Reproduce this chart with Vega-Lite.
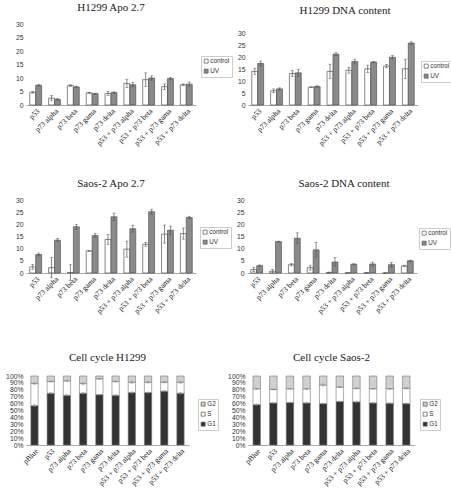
{
  "$schema": "https://vega.github.io/schema/vega-lite/v6.json",
  "padding": {"left": 5, "top": 2, "right": 0, "bottom": 0},
  "background": "white",
  "config": {
    "view": {"stroke": null},
    "title": {"font": "Liberation Serif", "fontSize": 11, "fontWeight": "normal", "color": "#222", "anchor": "middle"},
    "axisX": {"title": null, "labelAngle": -45, "labelFont": "Liberation Serif", "labelFontSize": 7.5, "labelColor": "#111", "ticks": false, "domainColor": "#aaa", "labelPadding": 2},
    "axisY": {"title": null, "labelFont": "Liberation Sans", "labelFontSize": 6.8, "labelColor": "#333", "domain": false, "ticks": false, "grid": false, "labelPadding": 3},
    "legend": {"title": null, "labelFont": "Liberation Sans", "labelFontSize": 6.3, "labelColor": "#333", "symbolType": "square", "symbolSize": 16, "symbolStrokeColor": "#555", "symbolStrokeWidth": 0.7, "strokeColor": "#ccc", "padding": 2, "rowPadding": 2, "labelOffset": 1, "orient": "none"}
  },
  "datasets": {
    "hA": [
      {"cond": "p53", "trt": "control", "v": 4.7, "e": 0.3}, {"cond": "p53", "trt": "UV", "v": 7.3, "e": 0.3},
      {"cond": "p73 alpha", "trt": "control", "v": 2.5, "e": 1.0}, {"cond": "p73 alpha", "trt": "UV", "v": 2.1, "e": 0.3},
      {"cond": "p73 beta", "trt": "control", "v": 7.2, "e": 0.3}, {"cond": "p73 beta", "trt": "UV", "v": 6.7, "e": 0.3},
      {"cond": "p73 gama", "trt": "control", "v": 4.5, "e": 0.2}, {"cond": "p73 gama", "trt": "UV", "v": 4.2, "e": 0.2},
      {"cond": "p73 delta", "trt": "control", "v": 4.3, "e": 0.8}, {"cond": "p73 delta", "trt": "UV", "v": 4.6, "e": 0.3},
      {"cond": "p53 + p73 alpha", "trt": "control", "v": 8.0, "e": 1.5}, {"cond": "p53 + p73 alpha", "trt": "UV", "v": 7.5, "e": 0.8},
      {"cond": "p53 + p73 beta", "trt": "control", "v": 9.4, "e": 2.5}, {"cond": "p53 + p73 beta", "trt": "UV", "v": 10.0, "e": 0.8},
      {"cond": "p53 + p73 gama", "trt": "control", "v": 6.8, "e": 1.0}, {"cond": "p53 + p73 gama", "trt": "UV", "v": 9.8, "e": 0.5},
      {"cond": "p53 + p73 delta", "trt": "control", "v": 7.5, "e": 0.3}, {"cond": "p53 + p73 delta", "trt": "UV", "v": 7.7, "e": 0.8}
    ],
    "hD": [
      {"cond": "p53", "trt": "control", "v": 14.0, "e": 1.2}, {"cond": "p53", "trt": "UV", "v": 17.3, "e": 1.0},
      {"cond": "p73 alpha", "trt": "control", "v": 5.9, "e": 0.8}, {"cond": "p73 alpha", "trt": "UV", "v": 6.7, "e": 0.4},
      {"cond": "p73 beta", "trt": "control", "v": 13.1, "e": 1.2}, {"cond": "p73 beta", "trt": "UV", "v": 13.4, "e": 1.5},
      {"cond": "p73 gama", "trt": "control", "v": 7.4, "e": 0.2}, {"cond": "p73 gama", "trt": "UV", "v": 7.7, "e": 0.3},
      {"cond": "p73 delta", "trt": "control", "v": 14.0, "e": 3.0}, {"cond": "p73 delta", "trt": "UV", "v": 21.2, "e": 0.6},
      {"cond": "p53 + p73 alpha", "trt": "control", "v": 14.5, "e": 1.2}, {"cond": "p53 + p73 alpha", "trt": "UV", "v": 18.1, "e": 1.0},
      {"cond": "p53 + p73 beta", "trt": "control", "v": 15.1, "e": 1.5}, {"cond": "p53 + p73 beta", "trt": "UV", "v": 17.9, "e": 0.3},
      {"cond": "p53 + p73 gama", "trt": "control", "v": 16.2, "e": 0.7}, {"cond": "p53 + p73 gama", "trt": "UV", "v": 19.9, "e": 0.7},
      {"cond": "p53 + p73 delta", "trt": "control", "v": 15.1, "e": 4.0}, {"cond": "p53 + p73 delta", "trt": "UV", "v": 25.8, "e": 0.5}
    ],
    "sA": [
      {"cond": "p53", "trt": "control", "v": 2.5, "e": 1.0}, {"cond": "p53", "trt": "UV", "v": 7.6, "e": 0.6},
      {"cond": "p73 alpha", "trt": "control", "v": 2.2, "e": 4.2}, {"cond": "p73 alpha", "trt": "UV", "v": 13.5, "e": 0.6},
      {"cond": "p73 beta", "trt": "control", "v": 0.2, "e": 3.2}, {"cond": "p73 beta", "trt": "UV", "v": 19.0, "e": 1.0},
      {"cond": "p73 gama", "trt": "control", "v": 9.1, "e": 0.2}, {"cond": "p73 gama", "trt": "UV", "v": 15.4, "e": 0.9},
      {"cond": "p73 delta", "trt": "control", "v": 13.8, "e": 2.0}, {"cond": "p73 delta", "trt": "UV", "v": 23.1, "e": 1.5},
      {"cond": "p53 + p73 alpha", "trt": "control", "v": 9.8, "e": 3.3}, {"cond": "p53 + p73 alpha", "trt": "UV", "v": 18.2, "e": 1.4},
      {"cond": "p53 + p73 beta", "trt": "control", "v": 11.8, "e": 0.8}, {"cond": "p53 + p73 beta", "trt": "UV", "v": 25.2, "e": 1.0},
      {"cond": "p53 + p73 gama", "trt": "control", "v": 16.0, "e": 3.7}, {"cond": "p53 + p73 gama", "trt": "UV", "v": 17.6, "e": 1.7},
      {"cond": "p53 + p73 delta", "trt": "control", "v": 16.2, "e": 2.3}, {"cond": "p53 + p73 delta", "trt": "UV", "v": 22.8, "e": 0.5}
    ],
    "sD": [
      {"cond": "p53", "trt": "control", "v": 1.4, "e": 0.8}, {"cond": "p53", "trt": "UV", "v": 3.0, "e": 0.3},
      {"cond": "p73 alpha", "trt": "control", "v": 0.7, "e": 0.7}, {"cond": "p73 alpha", "trt": "UV", "v": 12.9, "e": 0.2},
      {"cond": "p73 beta", "trt": "control", "v": 3.4, "e": 0.5}, {"cond": "p73 beta", "trt": "UV", "v": 14.3, "e": 2.2},
      {"cond": "p73 gama", "trt": "control", "v": 2.2, "e": 1.0}, {"cond": "p73 gama", "trt": "UV", "v": 9.5, "e": 3.0},
      {"cond": "p73 delta", "trt": "control", "v": 0.2, "e": 0.2}, {"cond": "p73 delta", "trt": "UV", "v": 4.5, "e": 1.8},
      {"cond": "p53 + p73 alpha", "trt": "control", "v": 0.05, "e": 0.0}, {"cond": "p53 + p73 alpha", "trt": "UV", "v": 3.6, "e": 0.2},
      {"cond": "p53 + p73 beta", "trt": "control", "v": 0.05, "e": 0.0}, {"cond": "p53 + p73 beta", "trt": "UV", "v": 3.7, "e": 0.8},
      {"cond": "p53 + p73 gama", "trt": "control", "v": 0.0, "e": 0.0}, {"cond": "p53 + p73 gama", "trt": "UV", "v": 3.4, "e": 1.0},
      {"cond": "p53 + p73 delta", "trt": "control", "v": 2.9, "e": 0.3}, {"cond": "p53 + p73 delta", "trt": "UV", "v": 5.0, "e": 0.3}
    ],
    "hC": [
      {"cond": "pBlue", "ph": "G1", "k": 1, "p": 57}, {"cond": "pBlue", "ph": "S", "k": 2, "p": 32}, {"cond": "pBlue", "ph": "G2", "k": 3, "p": 11},
      {"cond": "p53", "ph": "G1", "k": 1, "p": 75}, {"cond": "p53", "ph": "S", "k": 2, "p": 17}, {"cond": "p53", "ph": "G2", "k": 3, "p": 8},
      {"cond": "p73 alpha", "ph": "G1", "k": 1, "p": 72}, {"cond": "p73 alpha", "ph": "S", "k": 2, "p": 21}, {"cond": "p73 alpha", "ph": "G2", "k": 3, "p": 7},
      {"cond": "p73 beta", "ph": "G1", "k": 1, "p": 75}, {"cond": "p73 beta", "ph": "S", "k": 2, "p": 14}, {"cond": "p73 beta", "ph": "G2", "k": 3, "p": 11},
      {"cond": "p73 gama", "ph": "G1", "k": 1, "p": 73}, {"cond": "p73 gama", "ph": "S", "k": 2, "p": 23}, {"cond": "p73 gama", "ph": "G2", "k": 3, "p": 4},
      {"cond": "p73 delta", "ph": "G1", "k": 1, "p": 72}, {"cond": "p73 delta", "ph": "S", "k": 2, "p": 20}, {"cond": "p73 delta", "ph": "G2", "k": 3, "p": 8},
      {"cond": "p53 + p73 alpha", "ph": "G1", "k": 1, "p": 76}, {"cond": "p53 + p73 alpha", "ph": "S", "k": 2, "p": 15}, {"cond": "p53 + p73 alpha", "ph": "G2", "k": 3, "p": 9},
      {"cond": "p53 + p73 beta", "ph": "G1", "k": 1, "p": 76}, {"cond": "p53 + p73 beta", "ph": "S", "k": 2, "p": 15}, {"cond": "p53 + p73 beta", "ph": "G2", "k": 3, "p": 9},
      {"cond": "p53 + p73 gama", "ph": "G1", "k": 1, "p": 78}, {"cond": "p53 + p73 gama", "ph": "S", "k": 2, "p": 13}, {"cond": "p53 + p73 gama", "ph": "G2", "k": 3, "p": 9},
      {"cond": "p53 + p73 delta", "ph": "G1", "k": 1, "p": 75}, {"cond": "p53 + p73 delta", "ph": "S", "k": 2, "p": 16}, {"cond": "p53 + p73 delta", "ph": "G2", "k": 3, "p": 9}
    ],
    "hCe": [
      {"cond": "pBlue", "top": 57, "e": 1.2}, {"cond": "pBlue", "top": 89, "e": 1.0},
      {"cond": "p53", "top": 75, "e": 0.8}, {"cond": "p53", "top": 92, "e": 0.8},
      {"cond": "p73 alpha", "top": 72, "e": 0.8}, {"cond": "p73 alpha", "top": 93, "e": 1.0},
      {"cond": "p73 beta", "top": 75, "e": 1.0}, {"cond": "p73 beta", "top": 89, "e": 1.5},
      {"cond": "p73 gama", "top": 73, "e": 0.6}, {"cond": "p73 gama", "top": 96, "e": 0.8},
      {"cond": "p73 delta", "top": 72, "e": 0.8}, {"cond": "p73 delta", "top": 92, "e": 0.8},
      {"cond": "p53 + p73 alpha", "top": 76, "e": 1.0}, {"cond": "p53 + p73 alpha", "top": 91, "e": 1.5},
      {"cond": "p53 + p73 beta", "top": 76, "e": 0.8}, {"cond": "p53 + p73 beta", "top": 91, "e": 1.2},
      {"cond": "p53 + p73 gama", "top": 78, "e": 1.0}, {"cond": "p53 + p73 gama", "top": 91, "e": 1.0},
      {"cond": "p53 + p73 delta", "top": 75, "e": 1.2}, {"cond": "p53 + p73 delta", "top": 91, "e": 1.5}
    ],
    "sC": [
      {"cond": "pBlue", "ph": "G1", "k": 1, "p": 58.5}, {"cond": "pBlue", "ph": "S", "k": 2, "p": 23}, {"cond": "pBlue", "ph": "G2", "k": 3, "p": 18.5},
      {"cond": "p53", "ph": "G1", "k": 1, "p": 61}, {"cond": "p53", "ph": "S", "k": 2, "p": 19.5}, {"cond": "p53", "ph": "G2", "k": 3, "p": 19.5},
      {"cond": "p73 alpha", "ph": "G1", "k": 1, "p": 61.5}, {"cond": "p73 alpha", "ph": "S", "k": 2, "p": 20}, {"cond": "p73 alpha", "ph": "G2", "k": 3, "p": 18.5},
      {"cond": "p73 beta", "ph": "G1", "k": 1, "p": 61}, {"cond": "p73 beta", "ph": "S", "k": 2, "p": 20.5}, {"cond": "p73 beta", "ph": "G2", "k": 3, "p": 18.5},
      {"cond": "p73 gama", "ph": "G1", "k": 1, "p": 60}, {"cond": "p73 gama", "ph": "S", "k": 2, "p": 27}, {"cond": "p73 gama", "ph": "G2", "k": 3, "p": 13},
      {"cond": "p73 delta", "ph": "G1", "k": 1, "p": 63}, {"cond": "p73 delta", "ph": "S", "k": 2, "p": 21}, {"cond": "p73 delta", "ph": "G2", "k": 3, "p": 16},
      {"cond": "p53 + p73 alpha", "ph": "G1", "k": 1, "p": 62.5}, {"cond": "p53 + p73 alpha", "ph": "S", "k": 2, "p": 19.5}, {"cond": "p53 + p73 alpha", "ph": "G2", "k": 3, "p": 18},
      {"cond": "p53 + p73 beta", "ph": "G1", "k": 1, "p": 61}, {"cond": "p53 + p73 beta", "ph": "S", "k": 2, "p": 20.5}, {"cond": "p53 + p73 beta", "ph": "G2", "k": 3, "p": 18.5},
      {"cond": "p53 + p73 gama", "ph": "G1", "k": 1, "p": 60.5}, {"cond": "p53 + p73 gama", "ph": "S", "k": 2, "p": 21}, {"cond": "p53 + p73 gama", "ph": "G2", "k": 3, "p": 18.5},
      {"cond": "p53 + p73 delta", "ph": "G1", "k": 1, "p": 60}, {"cond": "p53 + p73 delta", "ph": "S", "k": 2, "p": 22}, {"cond": "p53 + p73 delta", "ph": "G2", "k": 3, "p": 18}
    ],
    "sCe": [
      {"cond": "pBlue", "top": 58.5, "e": 1.0}, {"cond": "pBlue", "top": 81.5, "e": 0.8},
      {"cond": "p53", "top": 61, "e": 0.8}, {"cond": "p53", "top": 80.5, "e": 0.8},
      {"cond": "p73 alpha", "top": 61.5, "e": 0.6}, {"cond": "p73 alpha", "top": 81.5, "e": 0.6},
      {"cond": "p73 beta", "top": 61, "e": 1.0}, {"cond": "p73 beta", "top": 81.5, "e": 0.8},
      {"cond": "p73 gama", "top": 60, "e": 0.6}, {"cond": "p73 gama", "top": 87, "e": 1.5},
      {"cond": "p73 delta", "top": 63, "e": 0.6}, {"cond": "p73 delta", "top": 84, "e": 1.0},
      {"cond": "p53 + p73 alpha", "top": 62.5, "e": 1.0}, {"cond": "p53 + p73 alpha", "top": 82, "e": 0.8},
      {"cond": "p53 + p73 beta", "top": 61, "e": 0.6}, {"cond": "p53 + p73 beta", "top": 81.5, "e": 0.6},
      {"cond": "p53 + p73 gama", "top": 60.5, "e": 0.6}, {"cond": "p53 + p73 gama", "top": 81.5, "e": 0.6},
      {"cond": "p53 + p73 delta", "top": 60, "e": 0.6}, {"cond": "p53 + p73 delta", "top": 82, "e": 0.8}
    ]
  },
  "vconcat": [
    {
      "hconcat": [
        {
          "width": 170, "height": 81,
          "title": {"text": "H1299 Apo 2.7", "offset": 8},
          "data": {"name": "hA"},
          "encoding": {
            "x": {"field": "cond", "type": "nominal", "sort": null, "scale": {"paddingInner": 0.37, "paddingOuter": 0.2}},
            "xOffset": {"field": "trt", "type": "nominal", "sort": ["control", "UV"], "scale": {"paddingInner": 0}},
            "y": {"field": "v", "type": "quantitative", "title": null, "scale": {"domain": [0, 30], "nice": false}, "axis": {"values": [0, 5, 10, 15, 20, 25, 30]}}
          },
          "layer": [
            {"mark": {"type": "bar", "stroke": "#555", "strokeWidth": 0.7},
             "encoding": {
               "color": {"field": "trt", "type": "nominal", "scale": {"domain": ["control", "UV"], "range": ["#ffffff", "#8a8a8a"]}, "legend": {"legendX": 175, "legendY": 32}}
             }},
            {"mark": {"type": "errorbar", "ticks": {"size": 3}, "color": "#555", "thickness": 0.7},
             "encoding": {"yError": {"field": "e"}}}
          ]
        },
        {
          "width": 170, "height": 81,
          "title": {"text": "H1299 DNA content", "offset": 8, "dx": 12},
          "data": {"name": "hD"},
          "encoding": {
            "x": {"field": "cond", "type": "nominal", "sort": null, "scale": {"paddingInner": 0.37, "paddingOuter": 0.2}},
            "xOffset": {"field": "trt", "type": "nominal", "sort": ["control", "UV"], "scale": {"paddingInner": 0}},
            "y": {"field": "v", "type": "quantitative", "title": null, "scale": {"domain": [0, 33.75], "nice": false}, "axis": {"values": [0, 5, 10, 15, 20, 25, 30]}}
          },
          "layer": [
            {"mark": {"type": "bar", "stroke": "#555", "strokeWidth": 0.7},
             "encoding": {
               "color": {"field": "trt", "type": "nominal", "scale": {"domain": ["control", "UV"], "range": ["#ffffff", "#8a8a8a"]}, "legend": {"legendX": 173, "legendY": 37}}
             }},
            {"mark": {"type": "errorbar", "ticks": {"size": 3}, "color": "#555", "thickness": 0.7},
             "encoding": {"yError": {"field": "e"}}}
          ]
        }
      ],
      "spacing": 4,
      "resolve": {"scale": {"color": "independent"}, "legend": {"color": "independent"}}
    },
    {
      "vconcat": [
        {
          "hconcat": [
            {
              "width": 170, "height": 73,
              "title": {"text": "Saos-2 Apo 2.7", "offset": 8},
              "data": {"name": "sA"},
              "encoding": {
                "x": {"field": "cond", "type": "nominal", "sort": null, "scale": {"paddingInner": 0.37, "paddingOuter": 0.2}},
                "xOffset": {"field": "trt", "type": "nominal", "sort": ["control", "UV"], "scale": {"paddingInner": 0}},
                "y": {"field": "v", "type": "quantitative", "title": null, "scale": {"domain": [0, 30], "nice": false}, "axis": {"values": [0, 5, 10, 15, 20, 25, 30]}}
              },
              "layer": [
                {"mark": {"type": "bar", "stroke": "#555", "strokeWidth": 0.7},
                 "encoding": {
                   "color": {"field": "trt", "type": "nominal", "scale": {"domain": ["control", "UV"], "range": ["#ffffff", "#8a8a8a"]}, "legend": {"legendX": 174, "legendY": 27}}
                 }},
                {"mark": {"type": "errorbar", "ticks": {"size": 3}, "color": "#555", "thickness": 0.7},
                 "encoding": {"yError": {"field": "e"}}}
              ]
            },
            {
              "width": 170, "height": 73,
              "title": {"text": "Saos-2 DNA content", "offset": 8, "dx": 12},
              "data": {"name": "sD"},
              "encoding": {
                "x": {"field": "cond", "type": "nominal", "sort": null, "scale": {"paddingInner": 0.37, "paddingOuter": 0.2}},
                "xOffset": {"field": "trt", "type": "nominal", "sort": ["control", "UV"], "scale": {"paddingInner": 0}},
                "y": {"field": "v", "type": "quantitative", "title": null, "scale": {"domain": [0, 30], "nice": false}, "axis": {"values": [0, 5, 10, 15, 20, 25, 30]}}
              },
              "layer": [
                {"mark": {"type": "bar", "stroke": "#555", "strokeWidth": 0.7},
                 "encoding": {
                   "color": {"field": "trt", "type": "nominal", "scale": {"domain": ["control", "UV"], "range": ["#ffffff", "#8a8a8a"]}, "legend": {"legendX": 172, "legendY": 28}}
                 }},
                {"mark": {"type": "errorbar", "ticks": {"size": 3}, "color": "#555", "thickness": 0.7},
                 "encoding": {"yError": {"field": "e"}}}
              ]
            }
          ],
          "spacing": 4,
          "resolve": {"scale": {"color": "independent"}, "legend": {"color": "independent"}}
        },
        {
          "hconcat": [
            {
              "width": 163, "height": 69,
              "title": {"text": "Cell cycle H1299", "offset": 10},
              "encoding": {
                "x": {"field": "cond", "type": "nominal", "sort": null, "scale": {"paddingInner": 0.55, "paddingOuter": 0.3}}
              },
              "layer": [
                {"data": {"name": "hC"},
                 "mark": {"type": "bar", "stroke": "#777", "strokeWidth": 0.6},
                 "encoding": {
                   "y": {"field": "p", "type": "quantitative", "stack": "zero", "title": null, "scale": {"domain": [0, 100], "nice": false}, "axis": {"values": [0, 10, 20, 30, 40, 50, 60, 70, 80, 90, 100], "labelExpr": "datum.value + '%'"}},
                   "order": {"field": "k", "type": "quantitative", "sort": "ascending"},
                   "color": {"field": "ph", "type": "nominal", "scale": {"domain": ["G1", "S", "G2"], "range": ["#333333", "#ffffff", "#d0d0d0"]}, "legend": {"legendX": 172, "legendY": 23, "values": ["G2", "S", "G1"]}}
                 }},
                {"data": {"name": "hCe"},
                 "mark": {"type": "errorbar", "ticks": {"size": 3}, "color": "#888", "thickness": 0.6},
                 "encoding": {"y": {"field": "top", "type": "quantitative", "title": null, "axis": {"values": [0, 10, 20, 30, 40, 50, 60, 70, 80, 90, 100], "labelExpr": "datum.value + '%'"}}, "yError": {"field": "e"}}}
              ]
            },
            {
              "width": 167, "height": 69,
              "title": {"text": "Cell cycle Saos-2", "offset": 10},
              "encoding": {
                "x": {"field": "cond", "type": "nominal", "sort": null, "scale": {"paddingInner": 0.55, "paddingOuter": 0.3}}
              },
              "layer": [
                {"data": {"name": "sC"},
                 "mark": {"type": "bar", "stroke": "#777", "strokeWidth": 0.6},
                 "encoding": {
                   "y": {"field": "p", "type": "quantitative", "stack": "zero", "title": null, "scale": {"domain": [0, 100], "nice": false}, "axis": {"values": [0, 10, 20, 30, 40, 50, 60, 70, 80, 90, 100], "labelExpr": "datum.value + '%'"}},
                   "order": {"field": "k", "type": "quantitative", "sort": "ascending"},
                   "color": {"field": "ph", "type": "nominal", "scale": {"domain": ["G1", "S", "G2"], "range": ["#333333", "#ffffff", "#d0d0d0"]}, "legend": {"legendX": 172, "legendY": 23, "values": ["G2", "S", "G1"]}}
                 }},
                {"data": {"name": "sCe"},
                 "mark": {"type": "errorbar", "ticks": {"size": 3}, "color": "#888", "thickness": 0.6},
                 "encoding": {"y": {"field": "top", "type": "quantitative", "title": null, "axis": {"values": [0, 10, 20, 30, 40, 50, 60, 70, 80, 90, 100], "labelExpr": "datum.value + '%'"}}, "yError": {"field": "e"}}}
              ]
            }
          ],
          "spacing": 8,
          "resolve": {"scale": {"color": "independent"}, "legend": {"color": "independent"}}
        }
      ],
      "spacing": 37,
      "resolve": {"scale": {"color": "independent"}, "legend": {"color": "independent"}}
    }
  ],
  "spacing": 31,
  "resolve": {"scale": {"color": "independent"}, "legend": {"color": "independent"}}
}
